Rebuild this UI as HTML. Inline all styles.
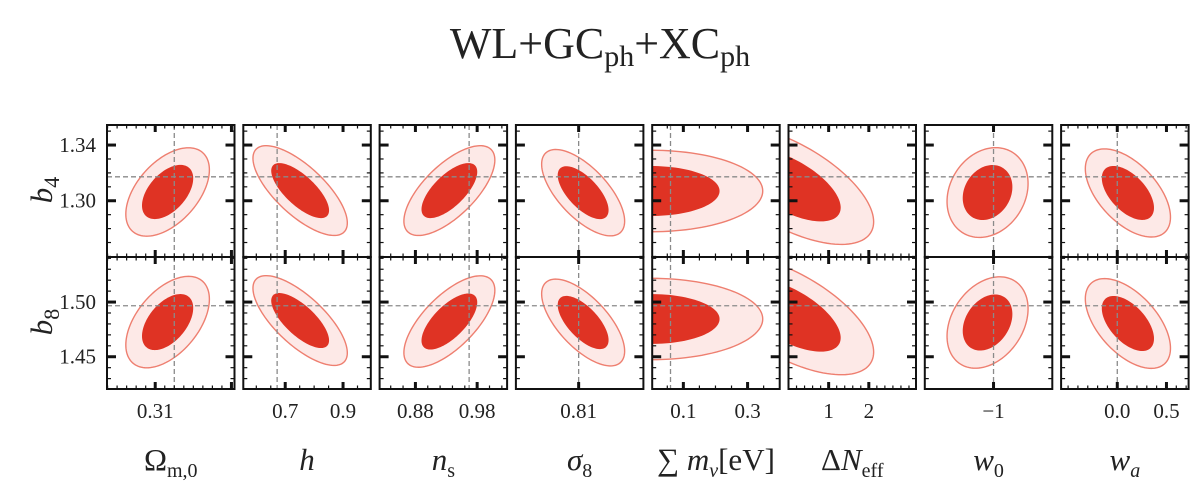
<!DOCTYPE html>
<html><head><meta charset="utf-8"><style>
html,body{margin:0;padding:0;background:#fff;}
svg{display:block;}
text{font-family:"Liberation Serif","DejaVu Serif",serif;fill:#222;}
</style></head><body>
<svg id="fig" width="1200" height="484" viewBox="0 0 1200 484" xmlns="http://www.w3.org/2000/svg">
<text x="600" y="58" text-anchor="middle" font-size="44">WL+GC<tspan font-size="30" dy="8">ph</tspan><tspan dy="-8">+XC</tspan><tspan font-size="30" dy="8">ph</tspan></text>
</svg>
<script>
// ---- data ----
const params = ["Omega_m0","h","n_s","sigma_8","sum_mnu","dN_eff","w_0","w_a"];
const xDomainMin = [0.2847, 0.555, 0.822, 0.747, 0.003, 0.0, -1.69, -0.571];
const xDomainMax = [0.3516, 0.996, 1.0285, 0.875, 0.400, 3.175, -0.41, 0.725];
const xTruth = [0.32, 0.672, 0.967, 0.81, 0.06, 0.0, -1.0, 0.0];
const xMajorTicks = [[0.31,0.35],[0.7,0.9],[0.88,0.98],[0.81],[0.1,0.3],[1,2],[-1],[0.0,0.5]];
const xTickLabels = [["0.31",""],["0.7","0.9"],["0.88","0.98"],["0.81"],["0.1","0.3"],["1","2"],["\u22121"],["0.0","0.5"]];
const xMinorStep = [0.005, 0.05, 0.02, 0, 0.05, 0.2, 0, 0.1];
const rowNames = ["b4","b8"];
const yDomainMin = [1.2596, 1.4205];
const yDomainMax = [1.3544, 1.5412];
const yTruth = [1.3172, 1.4966];
const yMajorTicks = [[1.30,1.34],[1.45,1.50]];
const yTickLabels = [["1.30","1.34"],["1.45","1.50"]];
const yMinorStep = [0.01, 0.01];
// ellipse params: center x, sigma x (per column)
const meanX = [0.3165, 0.7516, 0.935, 0.8145, 0.0, 0.0, -1.06, 0.108];
const sigmaX = [0.00884, 0.0658, 0.0297, 0.0168, 0.140, 0.855, 0.164, 0.1745];
// per row, per column
const meanB4 = [1.3063, 1.3073, 1.3073, 1.3058, 1.307, 1.3113, 1.3059, 1.3056];
const sigmaB4 = [0.0128, 0.0130, 0.0130, 0.0125, 0.0118, 0.0172, 0.0130, 0.01276];
const rhoB4 = [0.5, -0.72, 0.68, -0.66, 0.0, -0.62, 0.2, -0.55];
const meanB8 = [1.4817, 1.4831, 1.4822, 1.4813, 1.4845, 1.4881, 1.4813, 1.4804];
const sigmaB8 = [0.01686, 0.01655, 0.01686, 0.0160, 0.0150, 0.0220, 0.01685, 0.01655];
const rhoB8 = [0.5, -0.72, 0.68, -0.66, 0.0, -0.62, 0.3, -0.55];
const k1 = 1.52, k2 = 2.48;
const xLabelsHTML = [
 '<tspan font-style="normal">Ω</tspan><tspan font-size="20" dy="7" font-style="normal">m,0</tspan>',
 'h',
 'n<tspan font-size="20" dy="7" font-style="normal">s</tspan>',
 'σ<tspan font-size="20" dy="7" font-style="normal">8</tspan>',
 '<tspan font-style="normal">∑ </tspan>m<tspan font-size="20" dy="7">ν</tspan><tspan dy="-7" font-style="normal">[eV]</tspan>',
 '<tspan font-style="normal">Δ</tspan>N<tspan font-size="20" dy="7" font-style="normal">eff</tspan>',
 'w<tspan font-size="20" dy="7" font-style="normal">0</tspan>',
 'w<tspan font-size="20" dy="7">a</tspan>'
];
// ---- layout ----
const NS="http://www.w3.org/2000/svg";
const svg=document.getElementById('fig');
const panelLeft0=107, pitch=136.3, pw=127.5;
const rowTop=[125,257], ph=132;
function mk(tag,attrs,parent){const e=document.createElementNS(NS,tag);for(const k in attrs)e.setAttribute(k,attrs[k]);(parent||svg).appendChild(e);return e;}
const defs=mk('defs',{});
for(let c=0;c<8;c++){
  const L=panelLeft0+c*pitch;
  const sx=v=>L+(v-xDomainMin[c])/(xDomainMax[c]-xDomainMin[c])*pw;
  for(let r=0;r<2;r++){
    const T=rowTop[r];
    const sy=v=>T+ph-(v-yDomainMin[r])/(yDomainMax[r]-yDomainMin[r])*ph;
    const g=mk('g',{});
    
    
    const cp=mk('clipPath',{id:'cp'+r+'_'+c},defs);
    mk('rect',{x:L,y:T,width:pw,height:ph},cp);
    const my=r===0?meanB4[c]:meanB8[c], sgy=r===0?sigmaB4[c]:sigmaB8[c], rho=r===0?rhoB4[c]:rhoB8[c];
    function ell(k){let d='';for(let i=0;i<=120;i++){const t=i/120*2*Math.PI;
      const x=meanX[c]+k*sigmaX[c]*Math.cos(t);
      const y=my+k*sgy*(rho*Math.cos(t)+Math.sqrt(1-rho*rho)*Math.sin(t));
      d+=(i?'L':'M')+sx(x).toFixed(2)+','+sy(y).toFixed(2);}return d+'Z';}
    const cg=mk('g',{'clip-path':'url(#cp'+r+'_'+c+')'},g);
    const o=mk('path',{d:ell(k2),fill:'#fde9e7',stroke:'#ee7f70','stroke-width':1.4},cg);
    
    
    const i2=mk('path',{d:ell(k1),fill:'#df3324',stroke:'none'},cg);
    
    
    const vx=sx(xTruth[c]), hy=sy(yTruth[r]);
    const tv=mk('line',{x1:vx,x2:vx,y1:T,y2:T+ph,stroke:'#8a8a8a','stroke-width':1.3,'stroke-dasharray':'5,3'},cg);
    
    
    const th=mk('line',{x1:L,x2:L+pw,y1:hy,y2:hy,stroke:'#8a8a8a','stroke-width':1.3,'stroke-dasharray':'5,3'},cg);
    
    
    const tk=mk('g',{stroke:'#111'},g);
    xMajorTicks[c].forEach(v=>{const x=sx(v);
      mk('line',{x1:x,x2:x,y1:T,y2:T+7,'stroke-width':3},tk);
      mk('line',{x1:x,x2:x,y1:T+ph,y2:T+ph-7,'stroke-width':3},tk);});
    if(xMinorStep[c]>0){const s=xMinorStep[c];
      for(let v=Math.ceil(xDomainMin[c]/s)*s; v<=xDomainMax[c]; v+=s){const x=sx(v);
        mk('line',{x1:x,x2:x,y1:T,y2:T+3.5,'stroke-width':1.2},tk);
        mk('line',{x1:x,x2:x,y1:T+ph,y2:T+ph-3.5,'stroke-width':1.2},tk);}}
    yMajorTicks[r].forEach(v=>{const y=sy(v);
      mk('line',{x1:L,x2:L+9,y1:y,y2:y,'stroke-width':3},tk);
      mk('line',{x1:L+pw,x2:L+pw-9,y1:y,y2:y,'stroke-width':3},tk);});
    { const s=yMinorStep[r];
      for(let v=Math.ceil(yDomainMin[r]/s)*s; v<=yDomainMax[r]; v+=s){const y=sy(v);
        mk('line',{x1:L,x2:L+4,y1:y,y2:y,'stroke-width':1.2},tk);
        mk('line',{x1:L+pw,x2:L+pw-4,y1:y,y2:y,'stroke-width':1.2},tk);}}
    const fr=mk('rect',{x:L,y:T,width:pw,height:ph,fill:'none',stroke:'#111','stroke-width':2},g);
    
    
    if(c===0){
      yMajorTicks[r].forEach((v,i)=>{const t=mk('text',{x:96,y:sy(v)+7,'text-anchor':'end','font-size':21});
        t.textContent=yTickLabels[r][i];
        
        });
    }
  }
  xMajorTicks[c].forEach((v,i)=>{ if(!xTickLabels[c][i])return;
    const t=mk('text',{x:sx(v),y:418,'text-anchor':'middle','font-size':21});
    t.textContent=xTickLabels[c][i];
    
    });
  const xl=mk('text',{x:L+pw/2,y:470,'text-anchor':'middle','font-size':31,'font-style':'italic'});
  xl.innerHTML=xLabelsHTML[c];
  
  
}
[["b",4,190],["b",8,322]].forEach(([s,n,yc])=>{
  const t=mk('text',{x:0,y:0,'font-size':31,'font-style':'italic',transform:'translate(52,'+yc+') rotate(-90)','text-anchor':'middle'});
  t.innerHTML=s+'<tspan font-size="22" dy="7" font-style="normal">'+n+'</tspan>';
  
  
});
</script>
</body></html>
